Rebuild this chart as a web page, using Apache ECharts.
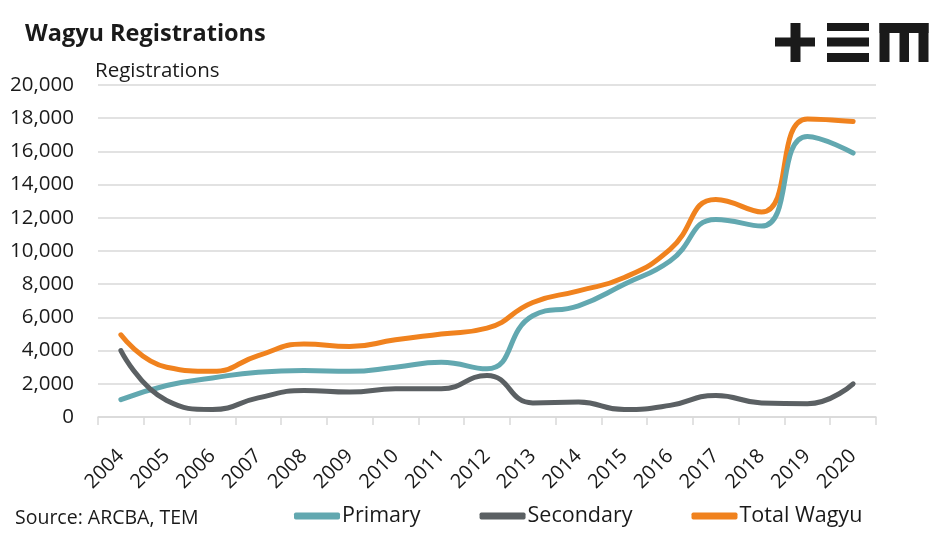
<!DOCTYPE html>
<html>
<head>
<meta charset="utf-8">
<script src="https://cdn.jsdelivr.net/npm/echarts@6/dist/echarts.min.js"></script>
<style>
html,body{margin:0;padding:0;background:#fff;}
#chart{width:947px;height:539px;}
</style>
</head>
<body>
<div id="chart"></div>
<script>
var years = ['2004','2005','2006','2007','2008','2009','2010','2011','2012','2013','2014','2015','2016','2017','2018','2019','2020'];
var primary = [1050, 1900, 2350, 2700, 2800, 2750, 3000, 3300, 2900, 6100, 6700, 8000, 9400, 11900, 11500, 16900, 15900];
var secondary = [4000, 1000, 450, 1150, 1600, 1500, 1700, 1700, 2500, 850, 900, 450, 700, 1300, 850, 800, 2000];
var totalWagyu = [4950, 3000, 2750, 3700, 4400, 4250, 4650, 5000, 5350, 6900, 7600, 8400, 10100, 13100, 12350, 17950, 17800];
var yTicks = [0, 2000, 4000, 6000, 8000, 10000, 12000, 14000, 16000, 18000, 20000];

var FONT = 'Open Sans';
var chart = echarts.init(document.getElementById('chart'));
var logo = '#1a1a1a';
chart.setOption({
  backgroundColor: '#fff',
  animation: false,
  title: {
    text: 'Wagyu Registrations',
    left: 20, top: 17,
    textStyle: {fontFamily: FONT, fontSize: 23.5, fontWeight: 'bold', color: '#1a1a1a'}
  },
  graphic: [
    {type: 'rect', shape: {x: 775, y: 37.5, width: 40, height: 9}, style: {fill: logo}},
    {type: 'rect', shape: {x: 790.5, y: 23, width: 10, height: 39}, style: {fill: logo}},
    {type: 'rect', shape: {x: 827, y: 23, width: 42, height: 8}, style: {fill: logo}},
    {type: 'rect', shape: {x: 827, y: 37.5, width: 42, height: 9}, style: {fill: logo}},
    {type: 'rect', shape: {x: 827, y: 53, width: 42, height: 9}, style: {fill: logo}},
    {type: 'rect', shape: {x: 879.5, y: 23, width: 49, height: 10}, style: {fill: logo}},
    {type: 'rect', shape: {x: 879.5, y: 23, width: 10, height: 39}, style: {fill: logo}},
    {type: 'rect', shape: {x: 899.5, y: 23, width: 9.5, height: 39}, style: {fill: logo}},
    {type: 'rect', shape: {x: 918.5, y: 23, width: 10, height: 39}, style: {fill: logo}},
    {type: 'text', left: 15, top: 508, style: {text: 'Source: ARCBA, TEM', fontFamily: FONT, fontSize: 19.5, fill: '#1a1a1a'}}
  ],
  legend: {
    left: 289, top: 500,
    icon: 'roundRect',
    itemWidth: 46, itemHeight: 7,
    itemGap: 59,
    textStyle: {fontFamily: FONT, fontSize: 21.5, color: '#1a1a1a', padding: [0, 0, 0, -3]},
    data: ['Primary', 'Secondary', 'Total Wagyu']
  },
  grid: {left: 98, right: 71, top: 85, bottom: 122, containLabel: false},
  xAxis: {
    type: 'category',
    data: years,
    boundaryGap: true,
    axisLine: {show: true, lineStyle: {color: '#d9d9d9', width: 1.5}},
    axisTick: {show: true, length: 8, alignWithLabel: false, lineStyle: {color: '#d9d9d9', width: 1.5}},
    axisLabel: {rotate: 45, margin: 36, interval: 0, fontFamily: FONT, fontSize: 20, color: '#1a1a1a'}
  },
  yAxis: {
    type: 'value',
    min: 0, max: 20000, interval: 2000,
    name: 'Registrations',
    nameLocation: 'end',
    nameGap: 3,
    nameTextStyle: {fontFamily: FONT, fontSize: 20.5, color: '#1a1a1a', align: 'left', padding: [0, 0, 0, -3]},
    axisLine: {show: false},
    axisTick: {show: false},
    splitLine: {lineStyle: {color: '#d9d9d9', width: 1.5}},
    axisLabel: {
      margin: 24, fontFamily: FONT, fontSize: 20.5, color: '#1a1a1a',
      formatter: function (v) { return v.toLocaleString('en-US'); }
    }
  },
  series: [
    {name: 'Primary', type: 'line', data: primary, smooth: 0.5, symbol: 'none',
     lineStyle: {color: '#62A8B0', width: 5, cap: 'round'}, itemStyle: {color: '#62A8B0'}, z: 2},
    {name: 'Secondary', type: 'line', data: secondary, smooth: 0.5, symbol: 'none',
     lineStyle: {color: '#5B6063', width: 5, cap: 'round'}, itemStyle: {color: '#5B6063'}, z: 3},
    {name: 'Total Wagyu', type: 'line', data: totalWagyu, smooth: 0.5, symbol: 'none',
     lineStyle: {color: '#F0821E', width: 5, cap: 'round'}, itemStyle: {color: '#F0821E'}, z: 1}
  ]
});
</script>
</body>
</html>
